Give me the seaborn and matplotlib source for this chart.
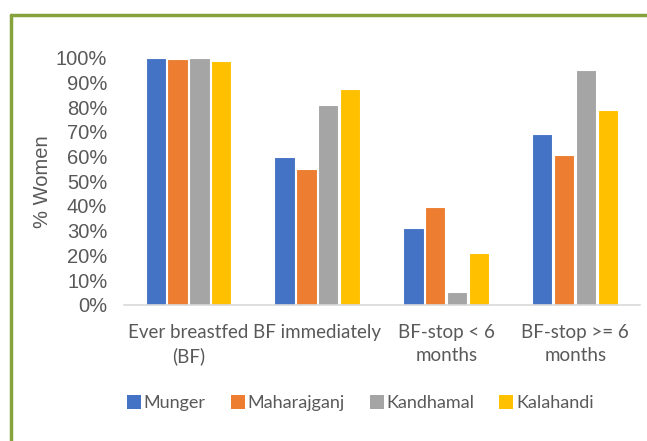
import pandas as pd
import seaborn as sns
import matplotlib.pyplot as plt
from matplotlib.lines import Line2D
from matplotlib.patches import Patch
from matplotlib.ticker import PercentFormatter

categories = ["Ever breastfed\n(BF)", "BF immediately", "BF-stop < 6\nmonths", "BF-stop >= 6\nmonths"]
districts = ["Munger", "Maharajganj", "Kandhamal", "Kalahandi"]
munger = [1.00, 0.60, 0.31, 0.69]
maharajganj = [0.994, 0.55, 0.396, 0.607]
kandhamal = [1.00, 0.807, 0.054, 0.948]
kalahandi = [0.985, 0.872, 0.21, 0.788]
colors = ["#4472C4", "#ED7D31", "#A5A5A5", "#FFC000"]

# Long-form table for seaborn.
rows = []
for name, vals in zip(districts, [munger, maharajganj, kandhamal, kalahandi]):
    for cat, v in zip(categories, vals):
        rows.append({"Category": cat, "District": name, "Value": v})
df = pd.DataFrame(rows)

sns.set_style("white")
plt.rcParams['font.family'] = ['Lato', 'DejaVu Sans']

fig = plt.figure(figsize=(6.47, 4.41), dpi=100)
ax = fig.add_axes([0.1917, 0.3084, 0.797, 0.5612])

sns.barplot(data=df, x="Category", y="Value", hue="District", order=categories,
            hue_order=districts, palette=colors, saturation=1, width=0.68, gap=0.08,
            edgecolor="white", linewidth=0.8, legend=False, ax=ax)

ax.set_ylim(0, 1.0)
ax.set_yticks([i / 10 for i in range(11)])
ax.yaxis.set_major_formatter(PercentFormatter(1.0, decimals=0))
for lab in ax.get_yticklabels():
    lab.set_fontfamily("Liberation Sans")
    lab.set_fontsize(14.5)
    lab.set_color("#595959")
for lab in ax.get_xticklabels():
    lab.set_fontsize(13.5)
    lab.set_color("#595959")
    lab.set_linespacing(1.38)
ax.tick_params(axis="y", length=0, pad=12)
ax.tick_params(axis="x", length=0, pad=14)
ax.set_xlabel("")
ax.set_ylabel("% Women", fontsize=14.5, color="#595959", family="Liberation Sans", labelpad=3)

for s in ["top", "right", "left"]:
    ax.spines[s].set_visible(False)
ax.spines["bottom"].set_color("#D9D9D9")
ax.spines["bottom"].set_linewidth(1.2)

handles = [Patch(facecolor=c, edgecolor="none") for c in colors]
fig.legend(handles, districts, loc="center", bbox_to_anchor=(0.557, 0.086), ncol=4,
           frameon=False, fontsize=13, handlelength=0.78, handleheight=0.78,
           handletextpad=0.15, columnspacing=1.38, labelcolor="#595959")

# Green frame around the figure (left and top edges visible).
green = "#86A23C"
fig.add_artist(Line2D([11 / 647, 11 / 647], [0, 1 - 15 / 441], color=green, lw=2.5,
                      transform=fig.transFigure))
fig.add_artist(Line2D([11 / 647, 1], [1 - 15 / 441, 1 - 15 / 441], color=green, lw=2.5,
                      transform=fig.transFigure))

fig.savefig("out.png", dpi=100)
